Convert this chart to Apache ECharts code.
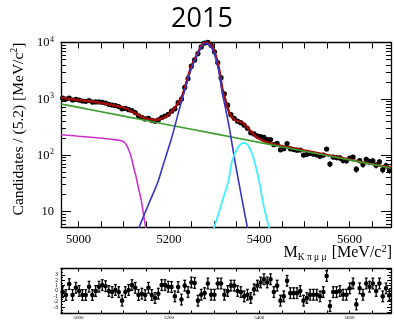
<!DOCTYPE html>
<html><head><meta charset="utf-8">
<script src="https://cdn.jsdelivr.net/npm/echarts@6/dist/echarts.min.js"></script>
<style>html,body{margin:0;padding:0;background:#fff}#c{width:394px;height:320px}</style>
</head><body><div id="c"></div>
<script>
// ---- data ----
const binStart = 4961;
const binWidth = 7.31;
const counts = [1024,986,1031,952,979,948,912,899,932,873,
  880,878,867,841,797,774,760,728,664,675,
  640,619,569,498,469,438,451,414,399,420,
  465,494,530,603,662,852,988,1589,2290,3797,
  4904,6355,8336,9760,10039,8934,6842,4392,2367,1225,
  770,522,451,400,376,339,298,249,237,219,
  212,206,189,188,153,162,124,130,160,129,
  125,122,123,100,103,107,104,101,95,100,
  128,69,92,90,89,80,79,88,92,56,
  80,68,84,77,79,66,76,55,65,54];
const pulls = [-0.2,-0.75,1.3,-0.75,0.6,0,-0.75,-0.75,0.8,-0.75,
  0,0.8,1.1,0.9,0,-0.2,0.2,-0.2,-1.8,-0.2,
  0.2,1.1,0.6,-0.75,-0.5,-0.75,0.6,-0.75,-1.3,-0.5,
  1.1,1.1,0.8,0.75,-1.0,0.75,-1.6,1.0,-0.2,1.6,
  1.5,-1.8,-0.7,-0.4,1.4,-0.7,-0.7,1.4,1.4,-0.7,
  0.0,1.0,1.0,0.0,-0.2,-1.0,-0.7,-1.3,0.3,1.0,
  1.6,2.2,1.6,2.2,-0.2,1.0,-1.8,-1.0,1.9,-0.4,
  -0.4,-0.4,0.0,-1.8,-1.3,-0.7,-0.7,-0.7,-1.0,-0.2,
  2.8,-2.8,-0.2,-0.2,0.0,-0.7,-0.7,0.5,1.4,-2.5,
  0.5,-0.7,1.4,0.8,1.4,0.0,1.4,-1.0,0.5,-0.8];
const totalFit = [[4961,1040],[4980,990],[5000,950],[5028,900],[5050,840],[5072,785],[5090,730],[5102,690],
  [5113,620],[5124,560],[5135,500],[5146,456],[5158,432],[5168,426],[5176,430],[5184,443],[5191,470],
  [5198,510],[5206,590],[5213,690],[5220,830],[5228,1050],[5234,1450],[5240,2100],[5250,3800],
  [5262,6000],[5273,8900],[5282,10000],[5290,9600],[5298,7800],[5305,5400],[5312,3100],[5318,1560],
  [5326,900],[5332,620],[5337,500],[5344,430],[5352,400],[5360,385],[5367,357],[5378,283],[5392,216],
  [5411,176],[5429,157],[5450,145],[5500,120],[5550,100],[5600,83],[5650,69],[5692,60]];
const combBkg = [[4961,809],[5000,703],[5100,491],[5200,343],[5300,240],[5400,168],[5500,117],[5600,82],[5692,59]];
const partReco = [[4961,230],[5000,216],[5040,203],[5080,188],[5094,180],[5100,172],[5105,155],[5111,124],
  [5117,89],[5122,60],[5128,39],[5133,25],[5138,17],[5142,11],[5145,7.6],[5150,4.6]];
const signal = [[5130,4.2],[5134,5.2],[5150,10.7],[5160,16.6],[5176,34],[5190,78],[5206,201],[5218,457],
  [5228,904],[5240,1900],[5250,3500],[5262,5800],[5273,8500],[5282,9700],[5290,9000],[5300,6500],
  [5310,3300],[5318,1300],[5326,640],[5334,300],[5346,80],[5358,24],[5366,11],[5374,5.2],[5377,4.2]];
const misId = [[5296,4.2],[5300,5.2],[5310,9],[5318,15],[5331,32],[5340,78],[5352,134],[5360,157],
  [5367,164],[5375,150],[5385,102],[5393,60],[5400,34],[5411,11.5],[5422,5.1],[5425,4.2]];
const xLabelValues = [5000,5200,5400,5600];
const xTickValues = [5000,5050,5100,5150,5200,5250,5300,5350,5400,5450,5500,5550,5600,5650];
const yLabelValues = [10,100,1000,10000];
const yMinorValues = [6,7,8,9,20,30,40,50,60,70,80,90,200,300,400,500,600,700,800,900,
  2000,3000,4000,5000,6000,7000,8000,9000];
const pullLabelValues = [-4,-3,-2,-1,0,1,2,3,4];
const pullMinorValues = [-4,-3.5,-3,-2.5,-2,-1.5,-1,-0.5,0,0.5,1,1.5,2,2.5,3,3.5,4];

// ---- build ----
const serif = '"Liberation Serif","DejaVu Serif",serif';
const massOf = k => binStart + binWidth * (k + 0.5);
const dataPts = counts.map((n, k) => [massOf(k), n, Math.sqrt(n)]);
const pullPts = pulls.map((p, k) => [massOf(k), p, 1]);
const XMIN = 4961, XMAX = 5692;

function xAx(grid, pos, showLabel, fs, tickLen, margin) {
  return {
    type: 'value', gridIndex: grid, position: pos, min: XMIN, max: XMAX,
    axisLine: { show: true, onZero: false, lineStyle: { color: '#000', width: 1.3 } },
    axisTick: { show: true, inside: true, length: tickLen, customValues: xTickValues, lineStyle: { color: '#000', width: 1 } },
    axisLabel: { show: showLabel, customValues: xLabelValues, color: '#000', fontFamily: serif, fontSize: fs, margin: margin,
      formatter: v => String(Math.round(v)) },
    splitLine: { show: false }
  };
}
function yMain(pos, major) {
  return {
    type: 'log', logBase: 10, gridIndex: 0, position: pos, min: 5.2, max: 10000,
    axisLine: { show: major, onZero: false, lineStyle: { color: '#000', width: 1.3 } },
    axisTick: { show: true, inside: true, length: major ? 10 : 5, customValues: major ? yLabelValues : yMinorValues,
      lineStyle: { color: '#000', width: 1 } },
    axisLabel: {
      show: major && pos === 'left', customValues: yLabelValues, margin: 7, color: '#000',
      formatter: v => { const e = Math.round(Math.log10(v)); return e === 1 ? '{b|10}' : '{b|10}{s|' + e + '}'; },
      rich: {
        b: { fontFamily: serif, fontSize: 12.5, color: '#000', lineHeight: 14, verticalAlign: 'bottom' },
        s: { fontFamily: serif, fontSize: 8, color: '#000', lineHeight: 14, verticalAlign: 'top', padding: [0, 0, 0, 0.5] }
      }
    },
    splitLine: { show: false }
  };
}
function yPull(pos, major) {
  return {
    type: 'value', gridIndex: 1, position: pos, min: -4.2, max: 4.2,
    axisLine: { show: major, onZero: false, lineStyle: { color: '#000', width: 1.3 } },
    axisTick: { show: true, inside: true, length: major ? 4 : 2, customValues: major ? pullLabelValues : pullMinorValues,
      lineStyle: { color: '#000', width: 1 } },
    axisLabel: { show: major && pos === 'left', customValues: pullLabelValues, color: '#000', fontFamily: serif, fontSize: 5.5, margin: 3 },
    splitLine: { show: false }
  };
}
function renderData(params, api) {
  const x = api.value(0), y = api.value(1), e = api.value(2);
  const p = api.coord([x, y]);
  const lo = api.coord([x, Math.max(y - e, 0.001)]);
  const hi = api.coord([x, y + e]);
  return { type: 'group', children: [
    { type: 'line', shape: { x1: p[0], y1: lo[1], x2: p[0], y2: hi[1] }, style: { stroke: '#000', lineWidth: 1.2 } },
    { type: 'line', shape: { x1: p[0] - 1.6, y1: p[1], x2: p[0] + 1.6, y2: p[1] }, style: { stroke: '#000', lineWidth: 1.2 } },
    { type: 'circle', shape: { cx: p[0], cy: p[1], r: 2.6 }, style: { fill: '#000' } }
  ] };
}
function renderPull(params, api) {
  const x = api.value(0), y = api.value(1), e = api.value(2);
  const p = api.coord([x, y]);
  const lo = api.coord([x, y - e]);
  const hi = api.coord([x, y + e]);
  const s = { stroke: '#000', lineWidth: 1.3 };
  return { type: 'group', children: [
    { type: 'line', shape: { x1: p[0], y1: lo[1], x2: p[0], y2: hi[1] }, style: s },
    { type: 'line', shape: { x1: p[0] - 1.4, y1: lo[1], x2: p[0] + 1.4, y2: lo[1] }, style: s },
    { type: 'line', shape: { x1: p[0] - 1.4, y1: hi[1], x2: p[0] + 1.4, y2: hi[1] }, style: s },
    { type: 'circle', shape: { cx: p[0], cy: p[1], r: 2.3 }, style: { fill: '#000' } }
  ] };
}
function curve(data, color, width, z) {
  return { type: 'line', xAxisIndex: 0, yAxisIndex: 0, data: data, showSymbol: false, smooth: 0.3,
    lineStyle: { color: color, width: width }, z: z, clip: true, silent: true, animation: false };
}

const chart = echarts.init(document.getElementById('c'), null, { renderer: 'canvas' });
chart.setOption({
  animation: false,
  backgroundColor: '#fff',
  grid: [
    { left: 61, top: 42.5, width: 330, height: 184.8 },
    { left: 61, top: 268.5, width: 330, height: 46 }
  ],
  xAxis: [
    xAx(0, 'bottom', true, 12.5, 6, 6),
    xAx(0, 'top', false, 12.5, 6, 6),
    xAx(1, 'bottom', true, 5, 3, 1.5),
    xAx(1, 'top', false, 5, 3, 1.5)
  ],
  yAxis: [
    yMain('left', true), yMain('left', false), yMain('right', true), yMain('right', false),
    yPull('left', true), yPull('left', false), yPull('right', true), yPull('right', false)
  ],
  series: [
    { type: 'custom', xAxisIndex: 0, yAxisIndex: 0, data: dataPts, renderItem: renderData, z: 1, silent: true },
    curve(totalFit, '#a00c0c', 2.5, 2),
    curve(combBkg, '#3c9c2c', 1.6, 3),
    curve(partReco, '#cc33cc', 1.6, 3),
    curve(signal, '#3636c8', 1.6, 4),
    curve(misId, '#3ff0ff', 1.8, 4),
    { type: 'custom', xAxisIndex: 2, yAxisIndex: 4, data: pullPts, renderItem: renderPull, z: 1, silent: true }
  ],
  graphic: [
    { type: 'text', x: 202, y: 19, style: { text: '2015', fill: '#000', font: '27px "Open Sans", "Liberation Sans", sans-serif', align: 'center', verticalAlign: 'middle' } },
    { type: 'text', x: 18, y: 129, rotation: Math.PI / 2,
      style: { text: '{a|Candidates / (5.2) [MeV/c}{s|2}{a|]}', align: 'center', verticalAlign: 'middle',
        rich: { a: { fontFamily: serif, fontSize: 15.5, fill: '#000', lineHeight: 18, verticalAlign: 'bottom' },
                s: { fontFamily: serif, fontSize: 10, fill: '#000', lineHeight: 18, verticalAlign: 'top' } } } },
    { type: 'text', x: 392, y: 253,
      style: { text: '{a|M}{k|K π μ μ}{a| [MeV/c}{s|2}{a|]}', align: 'right', verticalAlign: 'middle',
        rich: { a: { fontFamily: serif, fontSize: 16, fill: '#000', lineHeight: 18, verticalAlign: 'middle' },
                k: { fontFamily: serif, fontSize: 9.5, fill: '#000', lineHeight: 18, verticalAlign: 'bottom', padding: [0, 1, 0, 0] },
                s: { fontFamily: serif, fontSize: 10.5, fill: '#000', lineHeight: 18, verticalAlign: 'top' } } } }
  ]
});
</script></body></html>
